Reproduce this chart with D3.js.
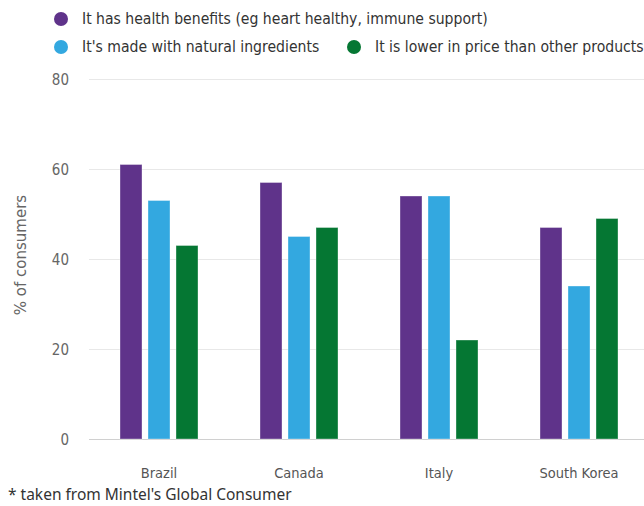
<!DOCTYPE html>
<html><head><meta charset="utf-8">
<script src="https://cdn.jsdelivr.net/npm/d3@7"></script>
<style>
html,body{margin:0;padding:0;background:#fff;}
svg{display:block;}
.cond{font-family:"DejaVu Sans Condensed","Liberation Sans Narrow","DejaVu Sans",sans-serif;font-stretch:condensed;}
</style></head>
<body>
<svg id="chart" width="644" height="506"></svg>
<script>
const categories = ["Brazil", "Canada", "Italy", "South Korea"];
const seriesNames = [
  "It has health benefits (eg heart healthy, immune support)",
  "It's made with natural ingredients",
  "It is lower in price than other products"
];
const seriesColors = ["#5f338a", "#33a8e0", "#057733"];
const healthValues = [61, 57, 54, 47];
const naturalValues = [53, 45, 54, 34];
const priceValues = [43, 47, 22, 49];
const yTicks = [0, 20, 40, 60, 80];
const footnote = "* taken from Mintel's Global Consumer";
const yTitle = "% of consumers";

const series = [healthValues, naturalValues, priceValues];
const svg = d3.select("#chart");

const y = d3.scaleLinear().domain([0, 80]).range([439, 79]);
const x0 = d3.scaleBand().domain(categories).range([89, 649]).paddingInner(0).paddingOuter(0);
const x1 = d3.scaleBand().domain(d3.range(3)).range([x0.bandwidth()/2 - 39, x0.bandwidth()/2 + 39]).paddingInner(6/28).paddingOuter(0);

const yAxis = d3.axisLeft(y).tickValues(yTicks).tickSize(0).tickPadding(0);
const gAxis = svg.append("g").attr("transform", "translate(69,0)").call(yAxis);
gAxis.select(".domain").remove();
gAxis.selectAll("text").attr("class", "cond").attr("font-size", 15).attr("fill", "#666").attr("dy", "0.35em").attr("x", 0);

svg.append("g").selectAll("line").data(yTicks).join("line")
  .attr("x1", 89).attr("x2", 644)
  .attr("y1", d => Math.round(y(d)) + 0.5).attr("y2", d => Math.round(y(d)) + 0.5)
  .attr("stroke", d => d === 0 ? "#d0d0d0" : "#e8e8e8").attr("stroke-width", 1);

const groups = svg.append("g").selectAll("g").data(categories).join("g")
  .attr("transform", c => `translate(${x0(c)},0)`);
groups.selectAll("rect").data((c, ci) => series.map((s, si) => ({si, v: s[ci]}))).join("rect")
  .attr("x", d => x1(d.si))
  .attr("width", x1.bandwidth())
  .attr("y", d => y(d.v))
  .attr("height", d => y(0) - y(d.v))
  .attr("fill", d => seriesColors[d.si])
  .attr("stroke", "rgba(255,255,255,0.35)").attr("stroke-width", 1);

const xAxis = d3.axisBottom(x0).tickSize(0).tickPadding(0);
const gx = svg.append("g").attr("transform", "translate(0,468)").call(xAxis);
gx.select(".domain").remove();
gx.selectAll("text").attr("class", "cond").attr("font-size", 14.5).attr("fill", "#555").attr("dy", "0.71em");

svg.append("text")
  .attr("font-family", "'DejaVu Sans', sans-serif")
  .attr("transform", "translate(26,255) rotate(-90)")
  .attr("text-anchor", "middle").attr("font-size", 15).attr("fill", "#666").text(yTitle);

const legendPos = [{cx: 61, cy: 19}, {cx: 61, cy: 47}, {cx: 354, cy: 47}];
const lg = svg.append("g").selectAll("g").data(seriesNames).join("g")
  .attr("transform", (d, i) => `translate(${legendPos[i].cx},${legendPos[i].cy})`);
lg.append("circle").attr("r", 7).attr("fill", (d, i) => seriesColors[i]);
lg.append("text").attr("class", "cond").attr("x", 21).attr("dy", "0.35em")
  .attr("font-size", 15.6).attr("fill", "#333").text(d => d);

svg.append("text").attr("x", 8).attr("y", 500)
  .attr("font-family", "'Noto Sans', sans-serif").attr("font-size", 15.5).attr("fill", "#333").text(footnote);
</script>
</body></html>
